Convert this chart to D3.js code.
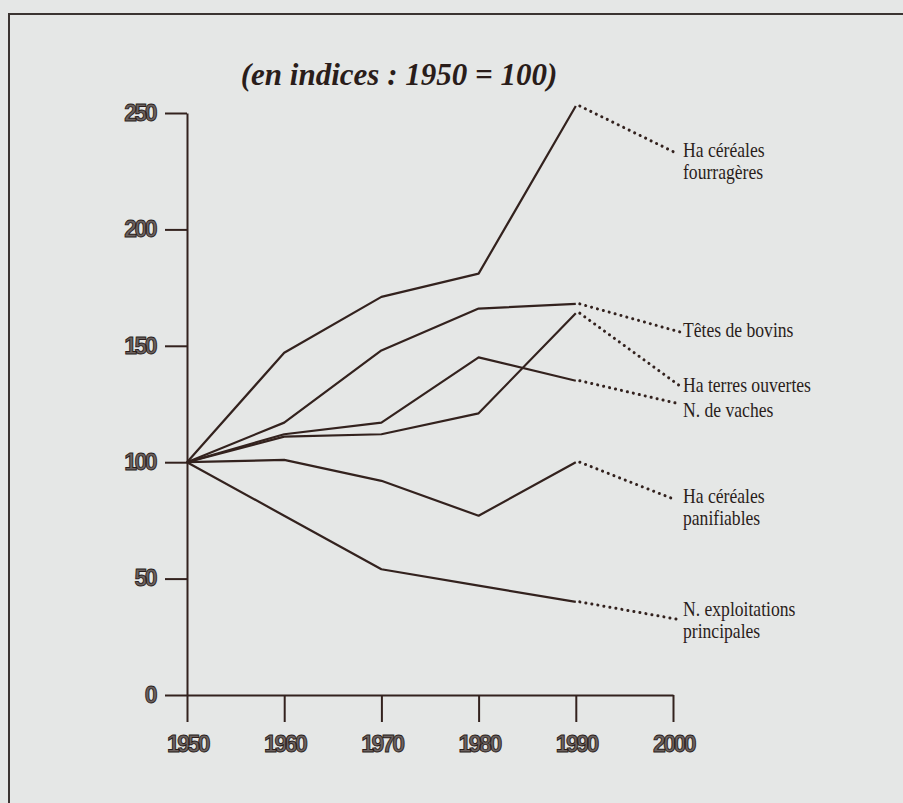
<!DOCTYPE html>
<html>
<head>
<meta charset="utf-8">
<script src="https://cdn.jsdelivr.net/npm/d3@7"></script>
<style>
  html, body { margin: 0; padding: 0; background: #e5e7e6; }
  svg { display: block; }
</style>
</head>
<body>
<svg id="chart"></svg>
<script>
// indices, 1950 = 100
const years = [1950, 1960, 1970, 1980, 1990];
const xTicks = [1950, 1960, 1970, 1980, 1990, 2000];
const yTicks = [0, 50, 100, 150, 200, 250];

const fourrageres   = [100, 147, 171, 181, 253];
const bovins        = [100, 117, 148, 166, 168];
const terresOuv     = [100, 111, 112, 121, 164];
const vaches        = [100, 112, 117, 145, 135];
const panifiables   = [100, 101, 92, 77, 100];
const exploitations = [100, 77, 54, 47, 40];

const seriesNames = [
  ['Ha céréales', 'fourragères'],
  ['Têtes de bovins'],
  ['Ha terres ouvertes'],
  ['N. de vaches'],
  ['Ha céréales', 'panifiables'],
  ['N. exploitations', 'principales']
];

class indexChart {

  constructor(_config) {
    this.config = {
      parentElement: _config.parentElement,
      width: 903,
      height: 803,
      ink: '#33221e'
    };
    this.series = [fourrageres, bovins, terresOuv, vaches, panifiables, exploitations];
    // where each dotted leader ends and where its label sits
    this.labelPos = [
      { lx: 676, ly: 153, ty: 157 },
      { lx: 680, ly: 332, ty: 337 },
      { lx: 680, ly: 386, ty: 392 },
      { lx: 680, ly: 404, ty: 417 },
      { lx: 676, ly: 500, ty: 503 },
      { lx: 676, ly: 619, ty: 616 }
    ];
    this.initVis();
  }

  initVis() {
    let vis = this;

    vis.svg = d3.select(vis.config.parentElement)
      .attr('width', vis.config.width)
      .attr('height', vis.config.height);

    // frame of the box (only top and left edge are in view)
    vis.svg.append('path')
      .attr('d', `M9,${vis.config.height} V14 H${vis.config.width}`)
      .attr('fill', 'none')
      .attr('stroke', '#3b3432')
      .attr('stroke-width', 2);

    vis.svg.append('text')
      .attr('x', 399)
      .attr('y', 85)
      .attr('text-anchor', 'middle')
      .style('font-family', '"Liberation Serif", "Times New Roman", serif')
      .style('font-style', 'italic')
      .style('font-weight', 'bold')
      .style('font-size', '31px')
      .attr('fill', '#2a1d1a')
      .text('(en indices : 1950 = 100)');

    vis.x = d3.scaleLinear().domain([1950, 2000]).range([187, 673]);
    vis.y = d3.scaleLinear().domain([0, 250]).range([695, 113]);

    vis.updateVis();
  }

  updateVis() {
    let vis = this;

    const yAxis = d3.axisLeft(vis.y)
      .tickValues(yTicks)
      .tickSize(22)
      .tickSizeOuter(0)
      .tickPadding(10)
      .tickFormat(d3.format('d'));

    const xAxis = d3.axisBottom(vis.x)
      .tickValues(xTicks)
      .tickSize(27)
      .tickSizeOuter(0)
      .tickPadding(14)
      .tickFormat(d3.format('d'));

    vis.yAxisG = vis.svg.append('g')
      .attr('transform', `translate(${vis.x(1950)},0)`)
      .call(yAxis);

    vis.xAxisG = vis.svg.append('g')
      .attr('transform', `translate(0,${vis.y(0)})`)
      .call(xAxis);

    [vis.yAxisG, vis.xAxisG].forEach(g => {
      g.selectAll('path, line')
        .attr('stroke', vis.config.ink)
        .attr('stroke-width', 2);
      g.selectAll('text')
        .style('font-family', '"Liberation Sans", Arial, sans-serif')
        .style('font-weight', 'bold')
        .style('font-size', '23px')
        .style('letter-spacing', '-2.5px')
        .attr('fill', '#6b6260')
        .attr('stroke', '#2a1d1a')
        .attr('stroke-width', 0.9);
    });

    vis.line = d3.line()
      .x((d, i) => vis.x(years[i]))
      .y(d => vis.y(d));

    vis.svg.selectAll('.series')
      .data(vis.series)
      .enter()
      .append('path')
      .attr('class', 'series')
      .attr('d', d => vis.line(d))
      .attr('fill', 'none')
      .attr('stroke', vis.config.ink)
      .attr('stroke-width', 2.2)
      .attr('stroke-linejoin', 'round');

    vis.renderVis();
  }

  renderVis() {
    let vis = this;
    const last = years.length - 1;

    vis.svg.selectAll('.leader')
      .data(vis.series)
      .enter()
      .append('line')
      .attr('class', 'leader')
      .attr('x1', vis.x(years[last]) + 4)
      .attr('y1', d => vis.y(d[last]))
      .attr('x2', (d, i) => vis.labelPos[i].lx)
      .attr('y2', (d, i) => vis.labelPos[i].ly)
      .attr('stroke', vis.config.ink)
      .attr('stroke-width', 3)
      .attr('stroke-linecap', 'round')
      .attr('stroke-dasharray', '0.1 6');

    const labels = vis.svg.selectAll('.series-label')
      .data(seriesNames)
      .enter()
      .append('text')
      .attr('class', 'series-label')
      .attr('transform', (d, i) => `translate(683,${vis.labelPos[i].ty}) scale(0.88,1)`)
      .style('font-family', '"Liberation Serif", "Times New Roman", serif')
      .style('font-size', '20px')
      .attr('fill', '#2a1d1a');

    labels.selectAll('tspan')
      .data(d => d)
      .enter()
      .append('tspan')
      .attr('x', 0)
      .attr('dy', (d, i) => i === 0 ? 0 : 22)
      .text(d => d);
  }
}

new indexChart({ parentElement: '#chart' });
</script>
</body>
</html>
